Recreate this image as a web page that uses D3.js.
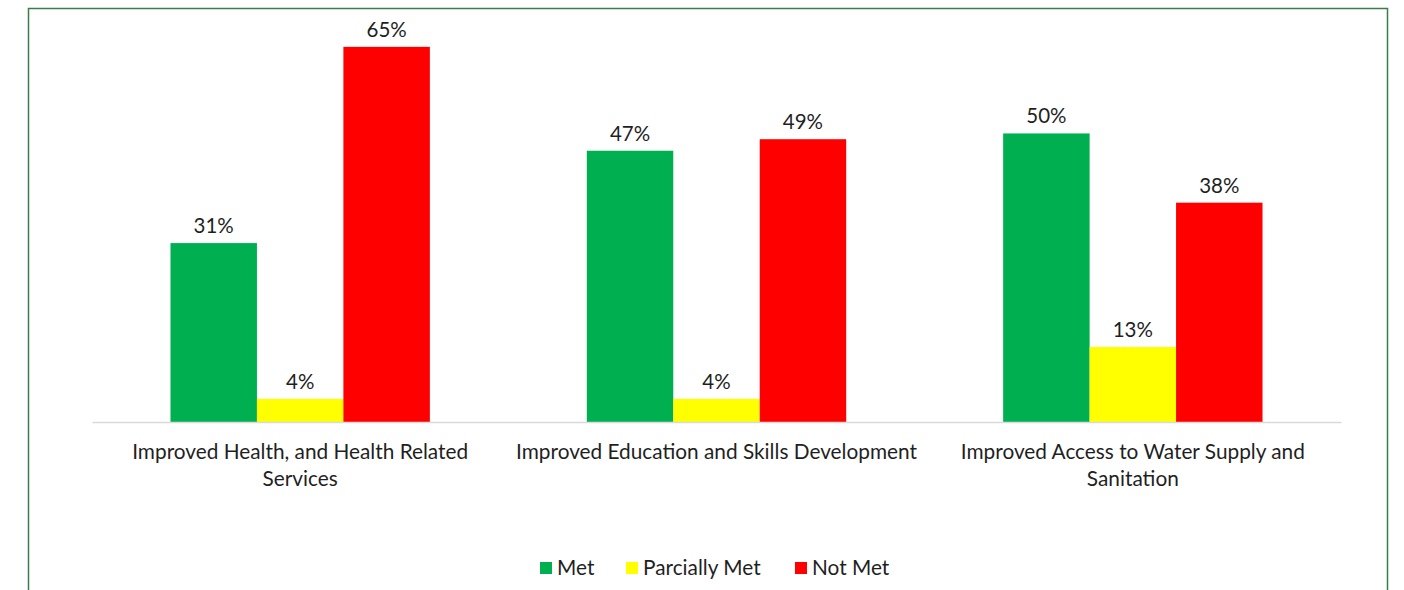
<!DOCTYPE html>
<html><head><meta charset="utf-8">
<script src="https://cdn.jsdelivr.net/npm/d3@7"></script>
<style>body{margin:0;background:#fff;} text{font-family:Lato,"Open Sans",sans-serif;fill:#1f1f1f;}</style>
</head><body>
<svg id="c" width="1404" height="590"></svg>
<script>
const categories = [
  ["Improved Health, and Health Related", "Services"],
  ["Improved Education and Skills Development"],
  ["Improved Access to Water Supply and", "Sanitation"]
];
const seriesNames = ["Met", "Parcially Met", "Not Met"];
const seriesColors = ["#00b050", "#ffff00", "#ff0000"];
const met = [31, 47, 50];
const partiallyMet = [4, 4, 13];
const notMet = [65, 49, 38];
const seriesValues = [met, partiallyMet, notMet];

const svg = d3.select("#c");
// outer border
svg.append("rect").attr("x", 28.5).attr("y", 8.5).attr("width", 1359).attr("height", 600)
  .attr("fill", "none").attr("stroke", "#3a7d4a").attr("stroke-width", 1.5);

const x0 = d3.scaleBand().domain(d3.range(categories.length)).range([92, 1341]).paddingInner(0).paddingOuter(0);
const inner = x0.bandwidth() * 0.623;
const x1 = d3.scaleBand().domain(d3.range(seriesNames.length)).range([0, inner]);
const y = d3.scaleLinear().domain([0, 70]).range([422, 18]);

const g = svg.append("g");
categories.forEach((c, i) => {
  const gx = x0(i) + (x0.bandwidth() - inner) / 2;
  seriesValues.forEach((vals, s) => {
    const v = vals[i];
    g.append("rect").attr("x", gx + x1(s)).attr("y", y(v)).attr("width", x1.bandwidth())
      .attr("height", y(0) - y(v)).attr("fill", seriesColors[s]);
    g.append("text").attr("x", gx + x1(s) + x1.bandwidth() / 2).attr("y", y(v) - 10)
      .attr("text-anchor", "middle").attr("font-size", 20.5).text(v + "%");
  });
});

// axis
const axis = svg.append("g").attr("transform", "translate(0,422)")
  .call(d3.axisBottom(x0).tickSize(0).tickFormat(""));
axis.select(".domain").attr("stroke", "#d9d9d9").attr("stroke-width", 1.3);

categories.forEach((lines, i) => {
  const t = svg.append("text").attr("x", x0(i) + x0.bandwidth() / 2).attr("y", 459)
    .attr("text-anchor", "middle").attr("font-size", 20.8);
  lines.forEach((l, k) => t.append("tspan").attr("x", x0(i) + x0.bandwidth() / 2).attr("dy", k ? 27 : 0).text(l));
});

// legend
const legendX = [540, 626, 795];
seriesNames.forEach((n, s) => {
  svg.append("rect").attr("x", legendX[s]).attr("y", 562).attr("width", 12).attr("height", 12).attr("fill", seriesColors[s]);
  svg.append("text").attr("x", legendX[s] + 17).attr("y", 575).attr("font-size", 20.8).text(n);
});
</script>
</body></html>
